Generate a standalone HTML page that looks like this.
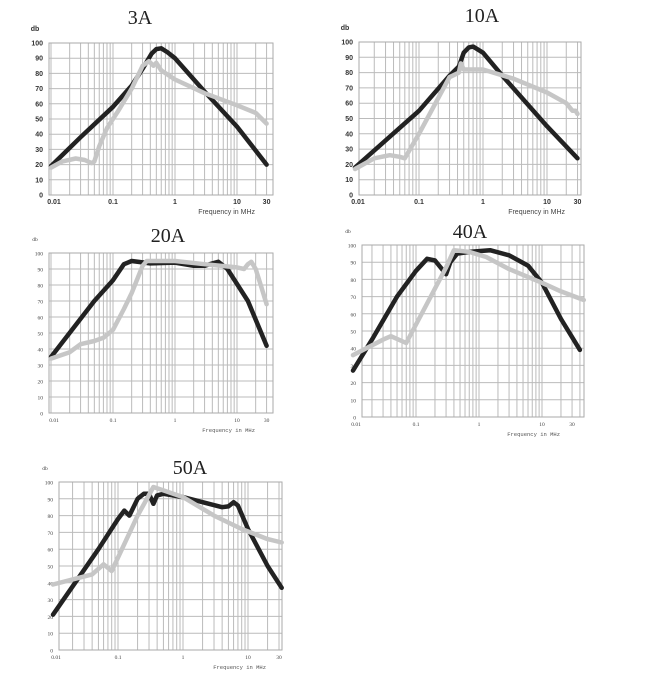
<!DOCTYPE html>
<html><head><meta charset="utf-8"><style>
html,body{margin:0;padding:0;background:#fff;width:654px;height:677px;overflow:hidden}
svg{display:block}
</style></head><body>
<svg id="s" width="654" height="677" xmlns="http://www.w3.org/2000/svg"></svg>
<script>
var charts=[
{L:49,R:273,T:43,B:195,x1:175,ppd:62,title:"3A",tx:140,ty:24,sans:true,
 k:[[0.01,19],[0.03,38],[0.1,58],[0.2,72],[0.3,83],[0.42,93],[0.5,96],[0.6,96.5],[0.75,94],[1,90],[3,68],[10,45],[30,20]],
 g:[[0.01,18],[0.015,22],[0.025,24],[0.035,23],[0.045,21],[0.05,22],[0.06,32],[0.08,44],[0.12,55],[0.2,70],[0.3,85],[0.38,88],[0.45,85],[0.5,87],[0.6,82],[1,76],[3,67],[10,59],[20,54],[30,47]]},
{L:359,R:581,T:42,B:195,x1:483,ppd:64,title:"10A",tx:482,ty:22,sans:true,
 k:[[0.01,18],[0.1,55],[0.3,78],[0.42,84],[0.5,93],[0.6,96.5],[0.7,97],[1,93],[2,78],[10,45],[30,24]],
 g:[[0.01,17],[0.02,24],[0.035,26],[0.05,25],[0.06,24],[0.08,33],[0.1,40],[0.3,77],[0.42,80],[0.45,86],[0.5,82],[1,82],[3,76],[10,67],[20,60],[25,55],[28,55],[30,53]]},
{L:49,R:273,T:253,B:413,x1:175,ppd:62,title:"20A",tx:168,ty:242,sans:false,
 k:[[0.01,35],[0.05,70],[0.1,83],[0.15,93],[0.2,95],[0.4,93.5],[1,94],[2,92],[3,92],[4,93.5],[5,94.5],[7,90],[15,70],[30,42]],
 g:[[0.01,34],[0.02,38],[0.03,43],[0.05,45],[0.07,47],[0.1,52],[0.15,65],[0.2,75],[0.3,92],[0.35,95],[0.5,95],[1,95],[3,93],[10,91],[13,90],[15,93],[17,94.5],[20,90],[25,78],[30,68]]},
{L:362,R:584,T:245,B:417,x1:479,ppd:63,title:"40A",tx:470,ty:238,sans:false,
 k:[[0.01,27],[0.02,45],[0.05,70],[0.1,85],[0.15,92],[0.2,91],[0.3,83],[0.35,90],[0.45,95],[0.7,96],[1.5,97],[3,94],[6,88],[10,78],[20,57],[40,39]],
 g:[[0.01,36],[0.03,45],[0.04,47],[0.07,43],[0.15,66],[0.3,87],[0.4,97],[0.7,96],[1.3,93],[3,86],[10,78],[20,73],[46,68]]},
{L:59,R:282,T:482,B:650,x1:183,ppd:65,title:"50A",tx:190,ty:474,sans:false,
 k:[[0.01,21],[0.05,60],[0.1,78],[0.125,83],[0.15,80],[0.2,90],[0.25,93],[0.3,93],[0.35,87],[0.4,92],[0.5,93],[1,91],[2,88],[4,85],[5,85.5],[6,88],[7,86],[10,72],[20,50],[33,37]],
 g:[[0.01,39],[0.02,42],[0.04,45],[0.06,51],[0.08,47],[0.1,55],[0.2,80],[0.35,97],[0.5,95],[1,91],[3,80],[8,72],[20,66],[33,64]]}
];
var h="";
charts.forEach(function(c){
 function X(f){return c.x1+Math.log10(f)*c.ppd;}
 function Y(d){return c.B-(c.B-c.T)*d/100;}
 var ff=c.sans?'font-family="Liberation Sans,sans-serif" font-weight="bold" font-size="7" fill="#333"':'font-family="Liberation Serif,serif" font-size="5.5" fill="#444"';
 // grid
 for(var d=0;d<=100;d+=10){var y=Y(d);h+='<line x1="'+c.L+'" x2="'+c.R+'" y1="'+y+'" y2="'+y+'" stroke="#bbb" stroke-width="1"/>';}
 for(var e=-2;e<=1;e++)for(var m=1;m<=9;m++){var f=m*Math.pow(10,e);var x=X(f);if(x>c.L&&x<c.R)h+='<line x1="'+x+'" x2="'+x+'" y1="'+c.T+'" y2="'+c.B+'" stroke="#bbb" stroke-width="1"/>';}
 h+='<rect x="'+c.L+'" y="'+c.T+'" width="'+(c.R-c.L)+'" height="'+(c.B-c.T)+'" fill="none" stroke="#aaa" stroke-width="1"/>';
 // y labels
 for(var d=0;d<=100;d+=10){h+='<text x="'+(c.L-6)+'" y="'+(Y(d)+2.5)+'" text-anchor="end" '+ff+'>'+d+'</text>';}
 h+='<text x="'+(c.L-14)+'" y="'+(c.T-12)+'" text-anchor="middle" '+ff+'>db</text>';
 // x labels
 var xl=[[0.01,"0.01"],[0.1,"0.1"],[1,"1"],[10,"10"],[30,"30"]];
 xl.forEach(function(p){var x=X(p[0]);if(p[0]==0.01)x+=3;h+='<text x="'+x+'" y="'+(c.B+9)+'" text-anchor="middle" '+ff+'>'+p[1]+'</text>';});
 var fr=c.sans?'font-family="Liberation Sans,sans-serif" font-size="7" fill="#444"':'font-family="Liberation Mono,monospace" font-size="5.5" fill="#555"';
 h+='<text x="'+(X(10)+18)+'" y="'+(c.B+19)+'" text-anchor="end" '+fr+'>Frequency in MHz</text>';
 h+='<text x="'+c.tx+'" y="'+c.ty+'" text-anchor="middle" font-family="Liberation Serif,serif" font-size="20" fill="#222">'+c.title+'</text>';
 function pl(pts,col){var s=pts.map(function(p){return X(p[0]).toFixed(1)+','+Y(p[1]).toFixed(1);}).join(' ');
  return '<polyline points="'+s+'" fill="none" stroke="'+col+'" stroke-width="4.5" stroke-linejoin="round" stroke-linecap="round"/>';}
 h+=pl(c.k,"#222");h+=pl(c.g,"#c6c6c6");
});
document.getElementById("s").innerHTML=h;
</script>
</body></html>
